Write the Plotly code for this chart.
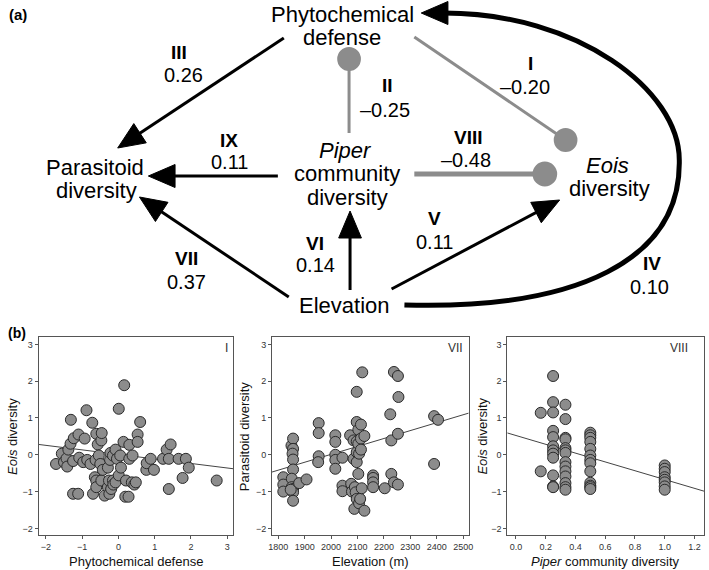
import numpy as np
import plotly.graph_objects as go

W, H = 709, 570

# ---------------- data ----------------
# (b) I : Phytochemical defense vs Eois diversity
phyto_x = [-1.72, -1.56, -1.5, -1.43, -1.41, -1.38, -1.32, -1.31, -1.25, -1.23, -1.25, -1.11, -1.1, -1.08,
           -0.97, -0.93, -0.88, -0.86, -0.77, -0.72, -0.7, -0.65, -0.63, -0.61, -0.61, -0.61, -0.57, -0.54,
           -0.5, -0.47, -0.47, -0.46, -0.43, -0.38, -0.29, -0.29, -0.26, -0.25, -0.23, -0.22, -0.2, -0.15,
           -0.15, -0.14, -0.08, -0.08, -0.04, 0.01, 0.01, 0.05, 0.07, 0.14, 0.16, 0.19, 0.21, 0.28, 0.3, 0.3,
           0.37, 0.39, 0.44, 0.48, 0.53, 0.53, 0.6, 0.77, 0.78, 0.89, 0.98, 1.23, 1.33, 1.39, 1.39, 1.44,
           1.66, 1.77, 1.86, 1.94, 2.71]
phyto_eois = [-0.25, 0.03, -0.2, -0.1, -0.32, 0.14, 0.3, 0.95, -0.17, 0.45, -1.06, -1.06, 0.55, -0.08,
              -0.2, 0.44, 1.21, -0.14, -0.25, 0.87, -1.06, -0.61, -0.14, 0.57, -0.7, -0.88, 0.28, -0.02,
              -0.25, -0.7, 0.39, 0.59, -0.41, -1.11, -0.88, -0.35, -0.7, -1.06, -0.14, 0.05, -0.93, -0.02,
              -0.7, -0.81, -0.75, 0.14, -0.11, -0.56, 1.25, -0.02, -0.35, 0.35, 1.89, -1.14, -0.7, -1.14, -0.11, 0.27,
              -0.75, -0.02, -0.81, -0.75, 0.55, 0.35, 0.89, -0.41, -0.23, -0.11, -0.41, -0.11, 0.14, -0.11, -0.93, 0.28,
              -0.11, -0.63, -0.11, -0.35, -0.7]
fit_I = [0.01, -0.123]          # intercept, slope

# (b) VII : Elevation vs Parasitoid diversity
elev_x = [1819, 1819, 1819, 1850, 1856, 1856, 1854, 1856, 1856, 1851, 1851, 1856, 1856, 1856, 1847,
          1879, 1907, 1953, 1953, 1953, 1951, 2016, 2016, 2016, 2016, 2016, 2043, 2043, 2043,
          2072, 2076, 2079, 2085, 2085, 2088, 2090, 2093, 2097, 2097, 2097, 2097, 2097, 2097,
          2103, 2103, 2103, 2106, 2106, 2110, 2113, 2113, 2113, 2116, 2118, 2126, 2126,
          2159, 2159, 2159, 2159, 2203, 2224, 2228, 2228, 2238, 2238, 2253, 2253, 2255, 2253,
          2390, 2405, 2390]
elev_paras = [-0.61, -0.81, -1.0, 0.25, 0.44, 0.16, 0.03, -0.13, -0.4, -0.65, -0.88, -0.93, -1.02, -1.25, -0.95,
              -0.77, -0.67, 0.86, 0.59, -0.04, -0.2, 0.53, 0.35, 0.0, -0.14, -0.38, -0.08, -0.84, -0.99,
              0.53, -0.79, -1.0, 0.39, -0.11, -1.47, -0.88, -1.02, 1.71, 0.89, 0.36, 0.07, -0.2, -1.2,
              0.68, -0.52, 0.3, 0.03, -1.32, -1.2, 0.82, 0.44, 0.14, -0.91, 2.24, 0.51, -1.52,
              -0.56, -0.63, -0.75, -0.88, -0.91, 1.1, 0.39, -0.52, 2.25, -0.75, 2.14, -0.81, 1.57, 0.57,
              1.05, 0.95, -0.25]
fit_VII = [-4.288, 0.00215]

# (b) VIII : Piper community diversity vs Eois diversity
piper_x = ([0.167] * 2 + [0.25] * 12 + [0.333] * 14 + [0.5] * 13 + [1.0] * 8)
piper_eois = [1.14, -0.45,
              2.14, 1.43, 1.15, 0.65, 0.48, 0.23, 0.12, 0.03, -0.08, -0.56, -0.86, -0.88,
              1.36, 0.97, 0.46, 0.42, 0.18, 0.12, 0.05, -0.2, -0.32, -0.45, -0.59, -0.77, -0.88, -0.95,
              0.6, 0.53, 0.46, 0.35, 0.16, -0.02, -0.14, -0.23, -0.45, -0.76, -0.84, -0.88, -0.93,
              -0.29, -0.38, -0.47, -0.61, -0.68, -0.75, -0.86, -0.95]
fit_VIII = [0.524, -1.197]

# (a) path coefficients
path_ids = ["I", "II", "III", "IV", "V", "VI", "VII", "VIII", "IX"]
path_coefs = [-0.20, -0.25, 0.26, 0.10, 0.11, 0.14, 0.37, -0.48, 0.11]

# ---------------- layout helpers (pixel coords of diagram) ----------------
FONT = "Liberation Sans, Arial, Helvetica, sans-serif"
GRAY = "#8c8c8c"

fig = go.Figure()

def fmt(v):
    return ("–%.2f" % abs(v)) if v < 0 else ("%.2f" % v)

# ---------- panel (b) scatter subplots ----------
panels = [
    dict(x=phyto_x, y=phyto_eois, fit=fit_I, xa="x", ya="y", px=(35, 232),
         xr=[-2.2, 3.17], tv=[-2, -1, 0, 1, 2, 3], tf="d",
         xt="Phytochemical defense", yt="<i>Eois</i> diversity", ytx=8, tag="I", tagx=225),
    dict(x=elev_x, y=elev_paras, fit=fit_VII, xa="x2", ya="y2", px=(271, 470),
         xr=[1776, 2521], tv=list(range(1800, 2501, 100)), tf="d",
         xt="Elevation (m)", yt="Parasitoid diversity", ytx=243, tag="VII", tagx=457),
    dict(x=piper_x, y=piper_eois, fit=fit_VIII, xa="x3", ya="y3", px=(509, 708),
         xr=[-0.058, 1.264], tv=[0, 0.2, 0.4, 0.6, 0.8, 1.0, 1.2], tf=".1f",
         xt="<i>Piper</i> community diversity", yt="<i>Eois</i> diversity", ytx=483, tag="VIII", tagx=683),
]
box_top, box_bot = 337, 535
yr = [-2.18, 3.2]

axis_style = dict(showline=True, mirror=True, linecolor="#555555", linewidth=1,
                  ticks="outside", ticklen=3, tickcolor="#555555", tickwidth=1,
                  tickfont=dict(family=FONT, size=9, color="#333333"),
                  showgrid=False, zeroline=False, fixedrange=True)

layout_axes = {}
annotations = []
for i, p in enumerate(panels):
    # regression line
    xl = np.array(p["xr"], dtype=float)
    yl = p["fit"][0] + p["fit"][1] * xl
    fig.add_trace(go.Scatter(x=xl, y=yl, mode="lines", xaxis=p["xa"], yaxis=p["ya"],
                             line=dict(color="#444444", width=1), hoverinfo="skip"))
    fig.add_trace(go.Scatter(x=p["x"], y=p["y"], mode="markers", xaxis=p["xa"], yaxis=p["ya"],
                             marker=dict(size=11, color=GRAY, line=dict(color="#2a2a2a", width=1))))
    xn = "xaxis" if i == 0 else "xaxis%d" % (i + 1)
    yn = "yaxis" if i == 0 else "yaxis%d" % (i + 1)
    layout_axes[xn] = dict(domain=[p["px"][0] / W, p["px"][1] / W], range=p["xr"],
                           tickvals=p["tv"], tickformat=p["tf"], anchor=p["ya"], **axis_style)
    layout_axes[yn] = dict(domain=[1 - box_bot / H, 1 - box_top / H], range=yr,
                           tickvals=[-2, -1, 0, 1, 2, 3], anchor=p["xa"], **axis_style)
    cx = (p["px"][0] + p["px"][1]) / 2
    annotations.append(dict(x=cx, y=561, text=p["xt"], showarrow=False, xref="x4", yref="y4",
                            font=dict(family=FONT, size=13, color="#111111")))
    annotations.append(dict(x=p["ytx"], y=(box_top + box_bot) / 2, text=p["yt"], showarrow=False,
                            xref="x4", yref="y4", textangle=-90,
                            font=dict(family=FONT, size=13, color="#111111")))
    annotations.append(dict(x=p["tagx"], y=348, text=p["tag"], showarrow=False, xref="x4", yref="y4",
                            font=dict(family=FONT, size=12, color="#333333")))

# ---------- panel (a) diagram ----------
fig.add_trace(go.Scatter(x=[], y=[], xaxis="x4", yaxis="y4", hoverinfo="skip"))
layout_axes["xaxis4"] = dict(domain=[0, 1], range=[0, W], visible=False, fixedrange=True, anchor="y4")
layout_axes["yaxis4"] = dict(domain=[0, 1], range=[H, 0], visible=False, fixedrange=True, anchor="x4")

def A(x, y, text, size=22, bold=False, **kw):
    t = "<b>%s</b>" % text if bold else text
    annotations.append(dict(x=x, y=y, text=t, showarrow=False, xref="x4", yref="y4",
                            font=dict(family=FONT, size=size, color="#000000"), **kw))

# node labels (one annotation per line)
node_lines = [("Phytochemical", 342, 14), ("defense", 342, 37),
              ("Parasitoid", 92, 167), ("diversity", 94, 190),
              ("<i>Piper</i>", 345, 150), ("community", 347, 173), ("diversity", 347, 197),
              ("<i>Eois</i>", 610, 165), ("diversity", 612, 188),
              ("Elevation", 344, 305)]
for t, x, y in node_lines:
    A(x, y, t)

# path label positions (numeral, coefficient)
label_pos = {"I": ((532, 63), (527, 87)), "II": ((388, 85), (385, 110)),
             "III": ((177, 52), (182, 75)), "IV": ((655, 263), (653, 287)),
             "V": ((435, 218), (435, 242)), "VI": ((315, 243), (315, 265)),
             "VII": ((185, 258), (185, 282)), "VIII": ((470, 137), (467, 160)),
             "IX": ((228, 140), (228, 162))}
for pid, c in zip(path_ids, path_coefs):
    (nx, ny), (vx, vy) = label_pos[pid]
    A(nx, ny, pid, size=19, bold=True)
    A(vx, vy, fmt(c), size=20)

shapes = []

def P(pt):
    return "%.2f,%.2f" % (pt[0], pt[1])

def arrow(start, tip, L=27, hw=11.5, width=3):
    s, t = np.array(start, float), np.array(tip, float)
    u = (t - s) / np.linalg.norm(t - s)
    n = np.array([-u[1], u[0]])
    base = t - u * L
    shapes.append(dict(type="path", xref="x4", yref="y4", path="M %s L %s" % (P(s), P(base + u * 3)),
                       line=dict(color="black", width=width)))
    shapes.append(dict(type="path", xref="x4", yref="y4",
                       path="M %s L %s L %s Z" % (P(t), P(base + n * hw), P(base - n * hw)),
                       fillcolor="black", line=dict(color="black", width=1)))

def blunt(start, end, r=12, width=3):
    shapes.append(dict(type="line", xref="x4", yref="y4", x0=start[0], y0=start[1], x1=end[0], y1=end[1],
                       line=dict(color=GRAY, width=width)))
    shapes.append(dict(type="circle", xref="x4", yref="y4", x0=end[0] - r, x1=end[0] + r,
                       y0=end[1] - r, y1=end[1] + r, fillcolor=GRAY, line=dict(color=GRAY, width=0)))

# positive (black arrows)
arrow((283, 38), (115, 148))     # III
arrow((277, 176), (146, 176))    # IX
arrow((288, 297), (137, 197))    # VII
arrow((350, 290), (350, 211))    # VI
arrow((392, 289), (562, 200))    # V
# IV curved thick arrow
shapes.append(dict(type="path", xref="x4", yref="y4",
                   path="M 405,305 C 580,310 685,260 683,160 C 683,90 580,13 445,13",
                   line=dict(color="black", width=5)))
shapes.append(dict(type="path", xref="x4", yref="y4",
                   path="M 422,13 L 449,1.5 L 449,24.5 Z", fillcolor="black",
                   line=dict(color="black", width=1)))

# negative (gray, circle ends)
blunt((415, 37), (568, 140), r=12, width=3)    # I
blunt((349, 133), (349, 59), r=12, width=3)    # II
blunt((415, 174), (547, 174), r=12.5, width=5) # VIII

A(14, 14, "(a)", size=15, bold=True)
A(13, 333, "(b)", size=14, bold=True)

fig.update_layout(width=W, height=H, margin=dict(l=0, r=0, t=0, b=0),
                  paper_bgcolor="white", plot_bgcolor="rgba(0,0,0,0)", showlegend=False,
                  annotations=annotations, shapes=shapes, **layout_axes)

fig.write_html("out.html", config={"displayModeBar": False},
               post_script="document.body.style.margin='0';document.body.style.padding='0';"
                           "document.body.style.overflow='hidden';")
